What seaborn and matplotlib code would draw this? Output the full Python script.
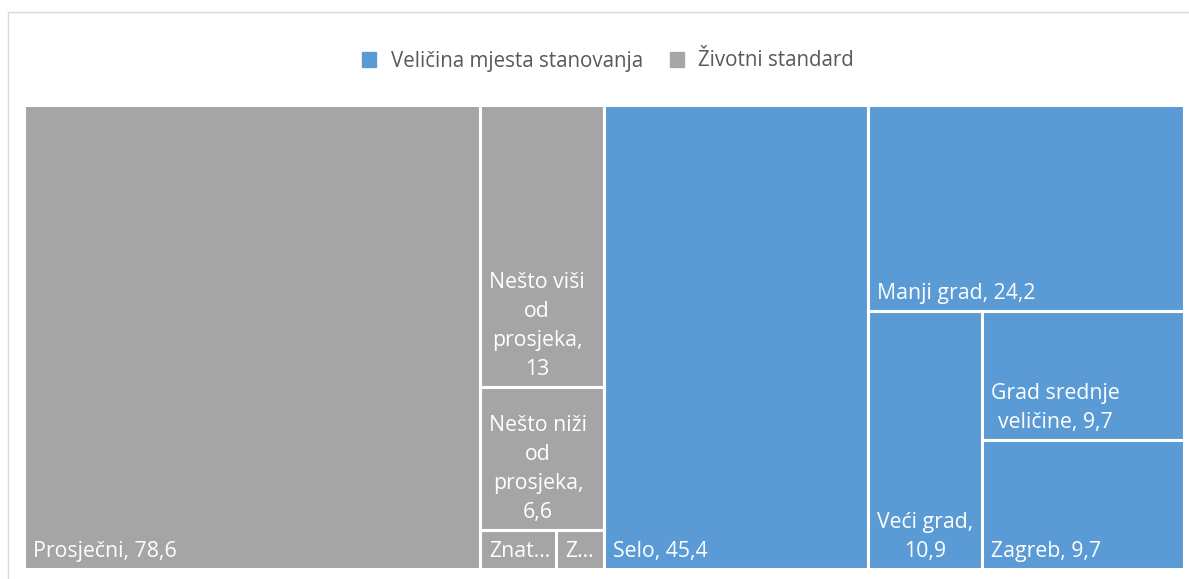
import matplotlib
matplotlib.use("Agg")
import matplotlib.pyplot as plt
from matplotlib.patches import Rectangle
import seaborn as sns

# Treemap data: two groups, leaves ordered by value
groups = ["Životni standard", "Veličina mjesta stanovanja"]
standard_labels = ["Prosječni, 78,6", "Nešto viši\nod\nprosjeka,\n13", "Nešto niži\nod\nprosjeka,\n6,6", "Znat...", "Z..."]
standard_values = [78.6, 13, 6.6, 1.1, 0.7]
mjesto_labels = ["Selo, 45,4", "Manji grad, 24,2", "Veći grad,\n10,9", "Grad srednje\nveličine, 9,7", "Zagreb, 9,7"]
mjesto_values = [45.4, 24.2, 10.9, 9.7, 9.7]

group_colors = {"Veličina mjesta stanovanja": "#5B9BD5", "Životni standard": "#A5A5A5"}

sns.set_theme(style="white")
plt.rcParams["font.family"] = ["Open Sans", "DejaVu Sans"]


# cut one slice per item from the remaining rectangle, across its longer side
def slice_layout(values, x, y, w, h):
    rects = []
    total = sum(values)
    for v in values:
        frac = v / total if total > 0 else 1
        if w >= h:
            cw = w * frac
            rects.append((x, y, cw, h))
            x, w = x + cw, w - cw
        else:
            ch = h * frac
            # top first (y axis runs upward)
            rects.append((x, y + h - ch, w, ch))
            h = h - ch
        total -= v
    return rects


W, H = 1160, 464
fig = plt.figure(figsize=(11.89, 5.79), dpi=100)
ax = fig.add_axes([24 / 1189, 10 / 579, W / 1189, H / 579])
ax.set_xlim(0, W)
ax.set_ylim(0, H)
ax.axis("off")

group_vals = [sum(standard_values), sum(mjesto_values)]
group_rects = slice_layout(group_vals, 0, 0, W, H)
leaves = [(standard_labels, standard_values), (mjesto_labels, mjesto_values)]

for g, (gx, gy, gw, gh), (labs, vals) in zip(groups, group_rects, leaves):
    for lab, (x, y, w, h) in zip(labs, slice_layout(vals, gx, gy, gw, gh)):
        ax.add_patch(Rectangle((x, y), w, h, facecolor=group_colors[g],
                               edgecolor="white", linewidth=2.2))
        ax.text(x + 9, y + 7, lab, color="white", fontsize=15.3,
                ha="left", va="bottom", multialignment="center",
                linespacing=1.5)

# chart frame
fig.patches.append(Rectangle((7.5 / 1189, -0.1), 1.2, (579 - 11.5) / 579 + 0.1,
                             transform=fig.transFigure, fill=False,
                             edgecolor="#D9D9D9", linewidth=1))

handles = [Rectangle((0, 0), 1, 1, color=group_colors[g]) for g in group_colors]
fig.legend(handles, list(group_colors), loc="center", bbox_to_anchor=(608 / 1189, 1 - 61 / 579),
           ncol=2, frameon=False, fontsize=14.8, handlelength=0.7, handleheight=0.7,
           handletextpad=0.7, columnspacing=1.3, labelcolor="#595959")

fig.savefig("out.png", dpi=100)
